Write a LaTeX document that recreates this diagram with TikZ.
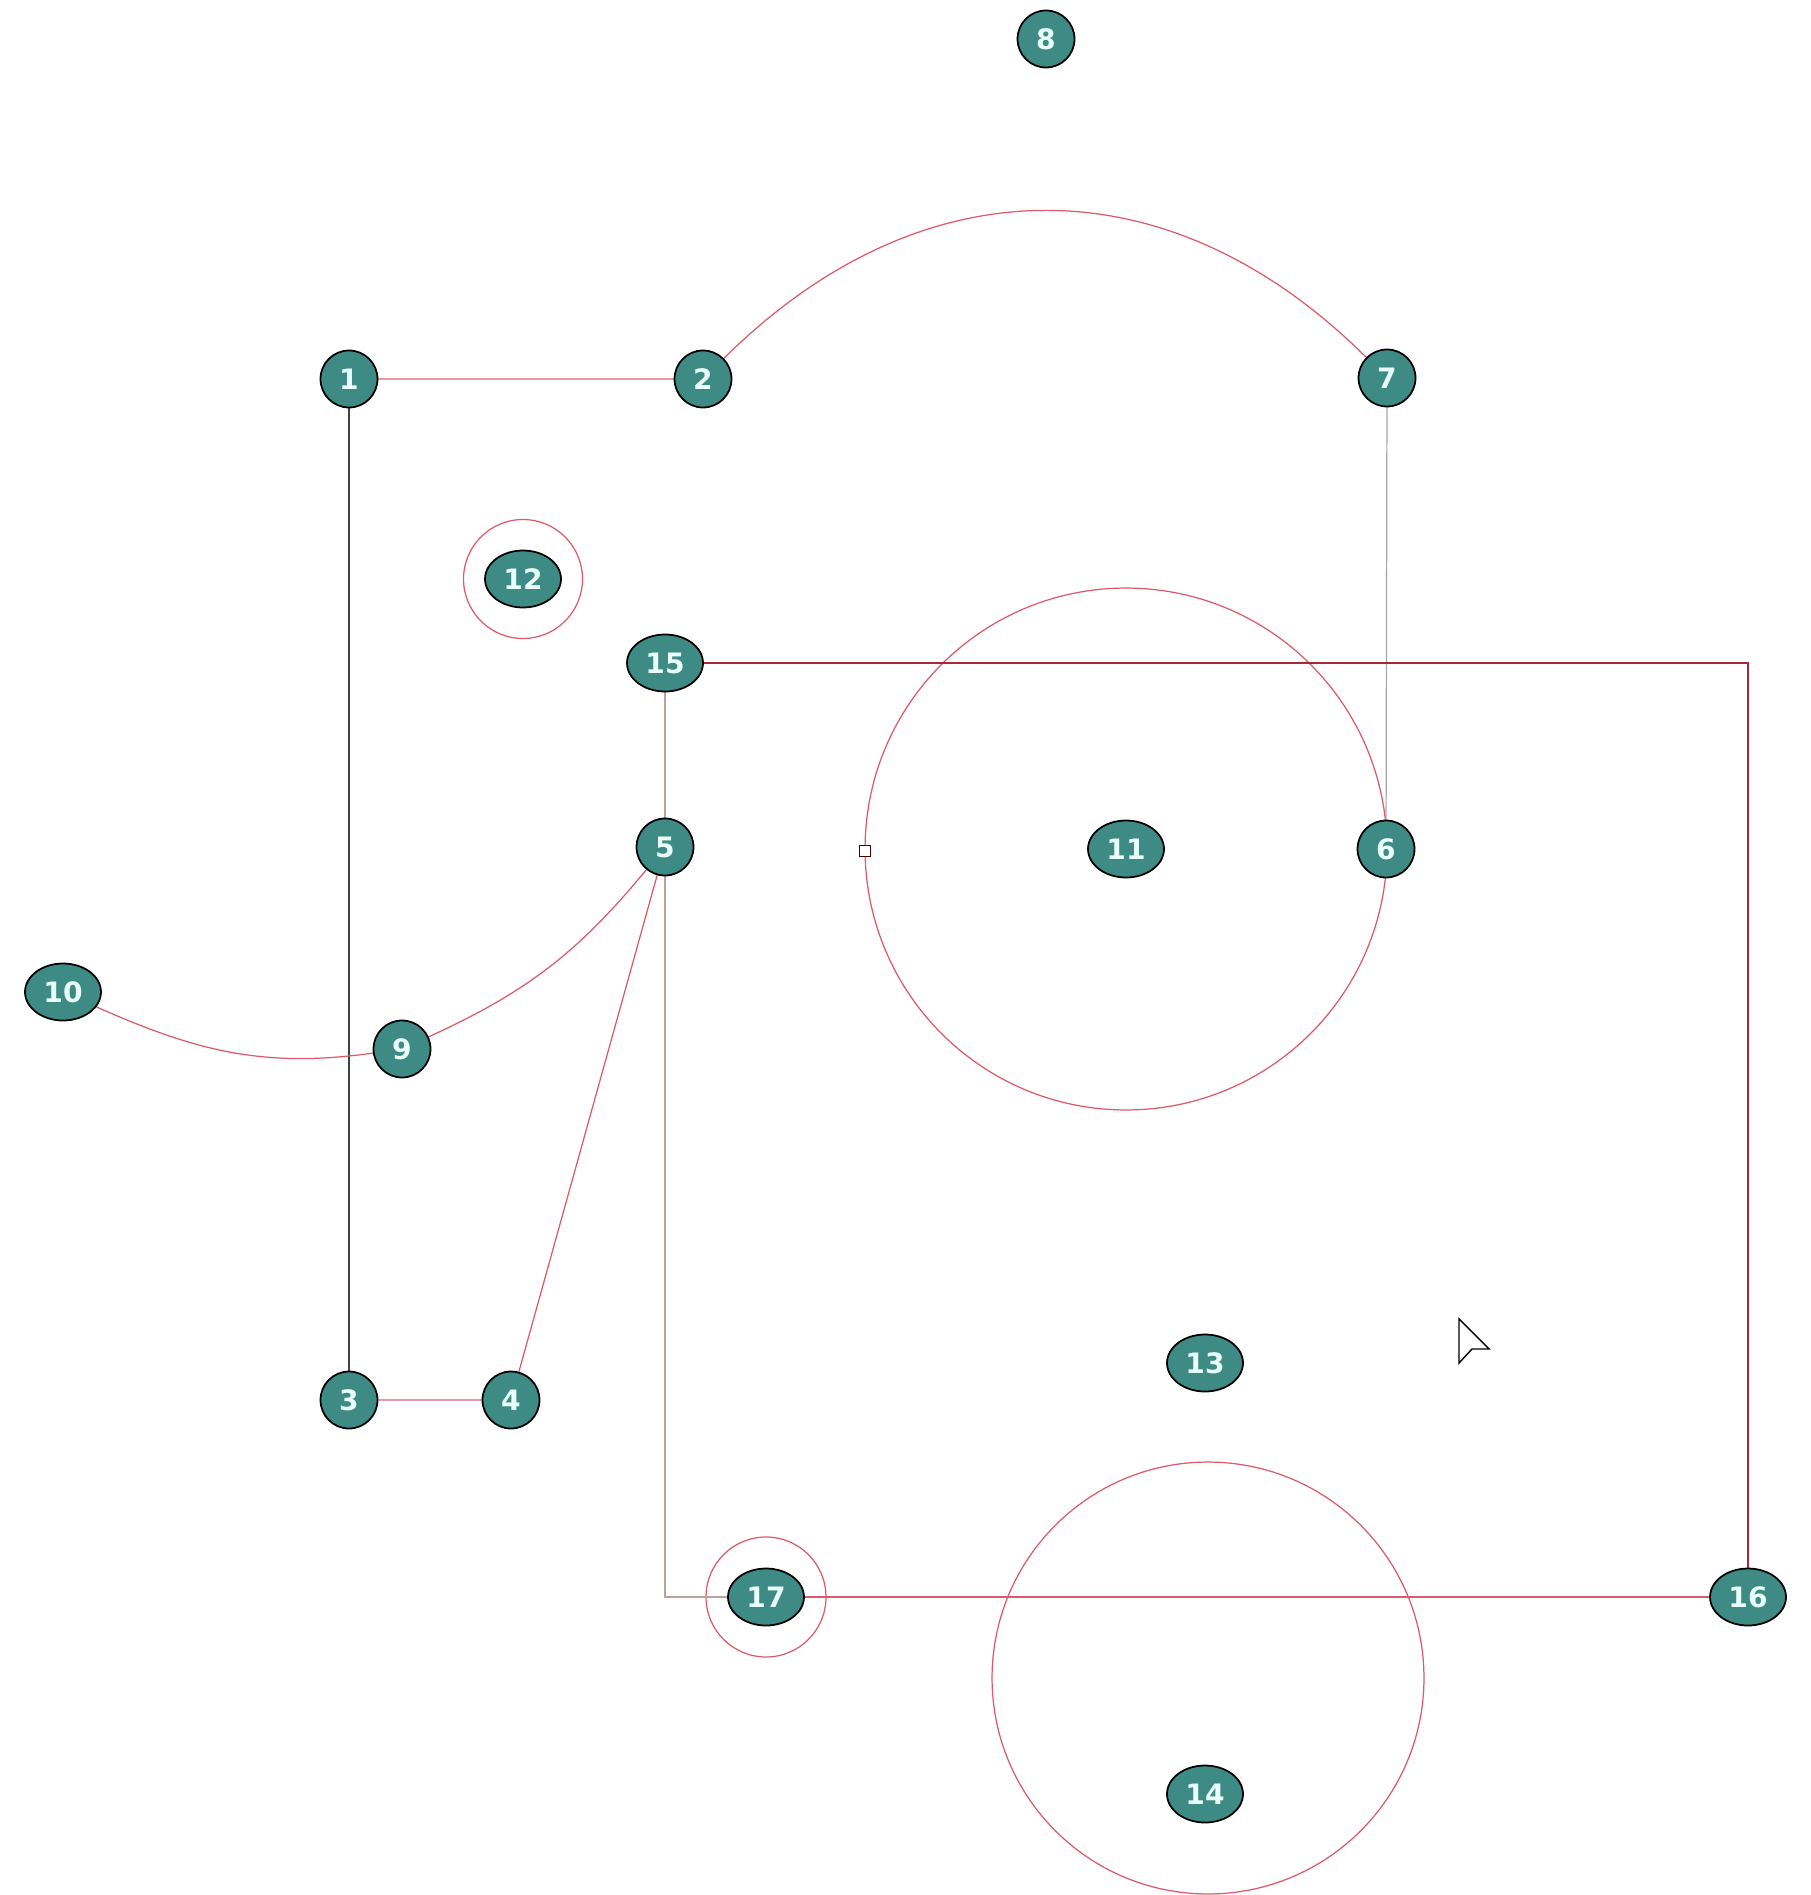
\documentclass[tikz,border=0pt]{standalone}
\usepackage{fontspec}
\newfontfamily\vtxfont{DejaVu Sans}
\usetikzlibrary{shapes.geometric, calc, backgrounds}
\definecolor{vtxteal}{RGB}{62,138,133}
\definecolor{vtxtext}{RGB}{232,255,252}
\definecolor{edgered}{RGB}{222,90,105}
\definecolor{edgepink}{RGB}{238,150,160}
\definecolor{edgedark}{RGB}{165,40,55}
\definecolor{edgegray}{RGB}{190,160,160}

\begin{document}
\begin{tikzpicture}[x=0.02cm, y=-0.02cm,
        vtx/.style={draw=black, line width=1pt, ellipse, fill=vtxteal, text=vtxtext, inner sep=0pt,
            minimum width=1.14cm, minimum height=1.14cm, font=\vtxfont\bfseries\fontsize{16}{18}\selectfont},
        vtxw/.style={vtx, minimum width=1.52cm},
        edge/.style={draw=edgered, line width=0.7pt}]
                    \useasboundingbox (0, 0) rectangle (1810, 1895);

                    \node[vtx] (V1) at (349, 379) {1};
                    \node[vtx] (V2) at (703, 379) {2};
                    \node[vtx] (V3) at (349, 1400) {3};
                    \node[vtx] (V4) at (511, 1400) {4};
                    \node[vtx] (V5) at (665, 847) {5};
                    \node[vtx] (V6) at (1386, 849) {6};
                    \node[vtx] (V7) at (1387, 378) {7};
                    \node[vtx] (V8) at (1046, 39) {8};
                    \node[vtx] (V9) at (402, 1049) {9};
                    \node[vtxw] (V10) at (63, 992) {10};
                    \node[vtxw] (V11) at (1126, 849) {11};
                    \node[vtxw] (V12) at (523, 579) {12};
                    \node[vtxw] (V13) at (1205, 1363) {13};
                    \node[vtxw] (V14) at (1205, 1794) {14};
                    \node[vtxw] (V15) at (665, 663) {15};
                    \node[vtxw] (V16) at (1748, 1597) {16};
                    \node[vtxw] (V17) at (766, 1597) {17};

                    \coordinate (C14) at (1208, 1678);
                    \node[draw=black!70!red, fill=white, line width=0.6pt, inner sep=0pt, minimum size=0.22cm] (Mk) at (865, 851) {};

                    \begin{pgfonlayer}{background}
                    \fill[white] (0, 0) rectangle (1810, 1895);

                    \draw[edge] (V12.center) circle (1.19cm);
                    \draw[edge] (V17.center) circle (1.2cm);
                    \draw[edge] (V11.center) circle (5.22cm);
                    \draw[edge] (C14) circle (4.32cm);

                    \draw[edgepink, line width=0.7pt] (V1) -- (V2);
                    \draw[black!75, line width=0.8pt] (V1) -- (V3);
                    \draw[edgepink, line width=0.7pt] (V3) -- (V4);
                    \draw[edge] (V4) -- (V5);
                    \draw[edge] (V2) .. controls ($(V2)!0.64!(V8)$) and ($(V7)!0.64!(V8)$) .. (V7);
                    \draw[gray!70, line width=0.7pt] (V7) -- (V6);
                    \draw[edge] (V10) to[out=-24, in=188] (V9);
                    \draw[edge] (V9) to[bend right=13] (V5);
                    \draw[edgegray, line width=0.7pt] (V15) -- (V5);
                    \draw[edgegray, line width=0.7pt] (V5) |- (V17);
                    \draw[edgedark, line width=1pt] (V15) -| (V16);
                    \draw[edge] (V17) -- (V16);
                    \end{pgfonlayer}

                    \draw[black, line width=0.8pt, fill=white] (1459, 1319) -- (1489, 1349) -- (1472, 1349) -- (1459, 1363) -- cycle;
\end{tikzpicture}
\end{document}
